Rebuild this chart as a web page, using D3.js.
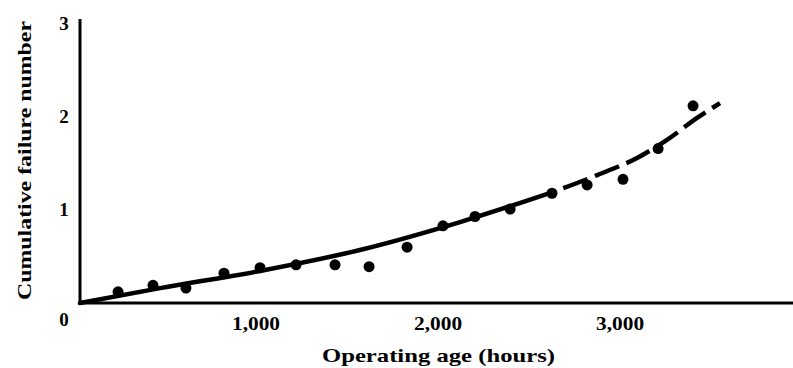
<!DOCTYPE html>
<html>
<head>
<meta charset="utf-8">
<script src="https://cdn.jsdelivr.net/npm/d3@7"></script>
<style>
  html, body { margin: 0; padding: 0; background: #fff; }
  svg { display: block; }
  text { font-family: "Liberation Serif", "DejaVu Serif", serif; font-weight: bold; fill: #000; }
</style>
</head>
<body>
<svg id="chart" width="793" height="368"></svg>
<script>
// Observed cumulative failures by operating age
const ageHours = [242, 434, 615, 824, 1022, 1220, 1434, 1621, 1830, 2027, 2203, 2396, 2626, 2819, 3016, 3209, 3401];
const cumFailures = [0.12, 0.19, 0.16, 0.32, 0.38, 0.41, 0.41, 0.39, 0.60, 0.83, 0.93, 1.01, 1.18, 1.27, 1.33, 1.66, 2.12];

// Fitted trend: solid over the observed range, dashed beyond it
const fitHoursSolid = [33, 473, 1022, 1571, 2121, 2626];
const fitValuesSolid = [0, 0.16, 0.345, 0.57, 0.87, 1.19];
const fitHoursDashed = [2626, 2874, 3093, 3258, 3423, 3549];
const fitValuesDashed = [1.19, 1.375, 1.56, 1.755, 1.99, 2.15];

const xTicks = [1000, 2000, 3000];
const xTickLabels = ["1,000", "2,000", "3,000"];
const yTicks = [0, 1, 2, 3];
const yTickLabels = ["0", "1", "2", "3"];

const svg = d3.select("#chart");

const x = d3.scaleLinear().domain([0, 3950]).range([74, 793]);
const y = d3.scaleLinear().domain([0, 3]).range([303, 24]);

const axisLeftX = x(33);

// Axis lines
svg.append("line")
  .attr("x1", axisLeftX - 1).attr("x2", 793)
  .attr("y1", y(0)).attr("y2", y(0))
  .attr("stroke", "#000").attr("stroke-width", 3);
svg.append("line")
  .attr("x1", axisLeftX).attr("x2", axisLeftX)
  .attr("y1", y(0) + 1.5).attr("y2", y(3) - 5)
  .attr("stroke", "#000").attr("stroke-width", 3);

// Tick labels
svg.selectAll("text.xt").data(xTicks).enter().append("text")
  .attr("class", "xt")
  .attr("x", d => x(d) - 24)
  .attr("y", 330)
  .attr("font-size", 19)
  .attr("textLength", 48)
  .attr("lengthAdjust", "spacingAndGlyphs")
  .text((d, i) => xTickLabels[i]);

// "0" sits below the corner; the others sit beside the axis
svg.selectAll("text.yt").data(yTicks).enter().append("text")
  .attr("class", "yt")
  .attr("x", 64)
  .attr("y", d => d === 0 ? 326 : y(d) + 6)
  .attr("text-anchor", "middle")
  .attr("font-size", 19)
  .text((d, i) => yTickLabels[i]);

// Axis titles
svg.append("text")
  .attr("x", 322).attr("y", 362)
  .attr("font-size", 19)
  .attr("textLength", 233)
  .attr("lengthAdjust", "spacingAndGlyphs")
  .text("Operating age (hours)");

svg.append("text")
  .attr("transform", "translate(31, 300) rotate(-90)")
  .attr("font-size", 19)
  .attr("textLength", 279)
  .attr("lengthAdjust", "spacingAndGlyphs")
  .text("Cumulative failure number");

// Trend curve
const line = d3.line()
  .x(d => x(d[0]))
  .y(d => y(d[1]))
  .curve(d3.curveMonotoneX);

svg.append("path")
  .datum(d3.zip(fitHoursSolid, fitValuesSolid))
  .attr("d", line)
  .attr("fill", "none")
  .attr("stroke", "#000")
  .attr("stroke-width", 4.5)
  .attr("stroke-linecap", "round");

svg.append("path")
  .datum(d3.zip(fitHoursDashed, fitValuesDashed))
  .attr("d", line)
  .attr("fill", "none")
  .attr("stroke", "#000")
  .attr("stroke-width", 4.5)
  .attr("stroke-dasharray", "26,8")
  .attr("stroke-dashoffset", -12);

// Observed points
svg.selectAll("circle.pt").data(d3.zip(ageHours, cumFailures)).enter().append("circle")
  .attr("class", "pt")
  .attr("cx", d => x(d[0]))
  .attr("cy", d => y(d[1]))
  .attr("r", 5.5)
  .attr("fill", "#000");
</script>
</body>
</html>
